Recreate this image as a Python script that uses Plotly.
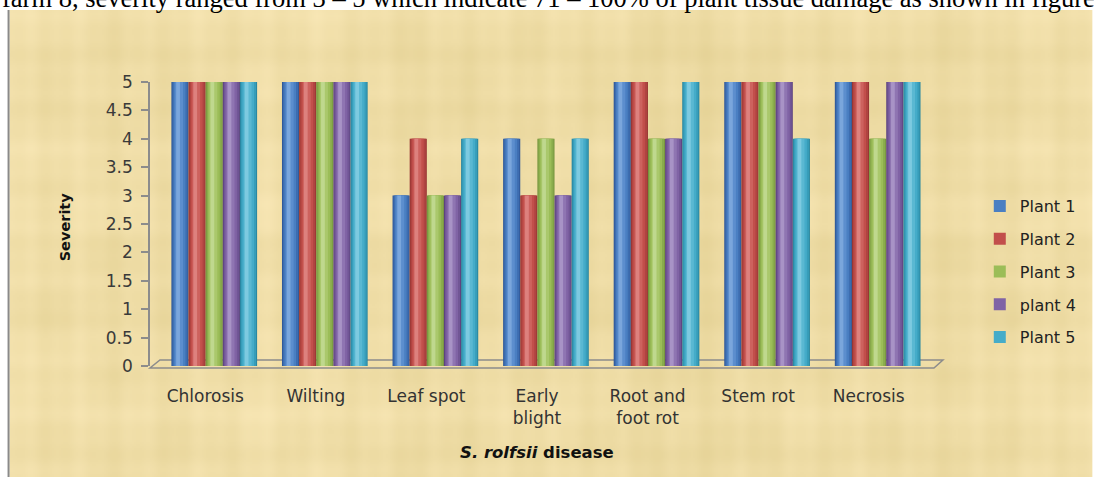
import base64
import struct
import zlib

import numpy as np
import plotly.graph_objects as go

# Disease categories on the x axis
categories = ["Chlorosis", "Wilting", "Leaf spot", "Early<br>blight",
              "Root and<br>foot rot", "Stem rot", "Necrosis"]

# Severity scores per plant
plant_1 = [5, 5, 3, 4, 5, 5, 5]
plant_2 = [5, 5, 4, 3, 5, 5, 5]
plant_3 = [5, 5, 3, 4, 4, 5, 4]
plant_4 = [5, 5, 3, 3, 4, 5, 5]
plant_5 = [5, 5, 4, 4, 5, 4, 5]

series_names = ["Plant 1", "Plant 2", "Plant 3", "plant 4", "Plant 5"]
series_values = [plant_1, plant_2, plant_3, plant_4, plant_5]

# Shades from the bar edge toward its highlight, for a cylinder look
shades = [
    ["#30599A", "#3D6DB0", "#4A7FC2", "#5C8ECE", "#7AA6DC"],
    ["#983634", "#B04441", "#C24F4B", "#CD625E", "#DD817E"],
    ["#76953E", "#8AAC4C", "#9BBD58", "#AAC86C", "#BFD88E"],
    ["#5D4380", "#715696", "#8063A5", "#8F75B2", "#A893C6"],
    ["#2A87A1", "#379DB9", "#45ACC9", "#5AB8D2", "#7DCAE0"],
]
layer_span = [(0.0, 1.0), (0.06, 0.88), (0.14, 0.68), (0.22, 0.46), (0.28, 0.22)]

# Plot-area geometry in pixels
W, H = 1094, 479
PL, PR, PT, PB = 150, 927, 82, 366


def px(x):
    return (x - PL) / (PR - PL)


def py(y):
    return (PB - y) / (PB - PT)


def parchment_png(w, h):
    """Woven parchment backdrop built from crossing fibre bands."""
    x = np.arange(w)[None, :].astype(float)
    y = np.arange(h)[:, None].astype(float)
    v = (1.8 * np.sin(x * 0.21 + 0.4) + 1.2 * np.sin(x * 0.047 + 1.3)
         + 1.2 * np.sin(x * 0.53 + 2.1) + 1.4 * np.sin(x * 0.013 + 0.2))
    hz = (1.6 * np.sin(y * 0.19 + 0.9) + 1.3 * np.sin(y * 0.061 + 2.4)
          + 1.0 * np.sin(y * 0.47 + 0.7))
    cells = 1.5 * np.sin(x * 0.09) * np.sin(y * 0.11 + 0.5)
    d = v + hz + cells
    base = np.array([239.0, 221.0, 166.0])
    tint = np.array([1.0, 1.05, 1.6])
    img = base[None, None, :] + d[:, :, None] * tint[None, None, :]
    img = np.clip(img, 0, 255).astype(np.uint8)
    raw = b"".join(b"\x00" + row.tobytes() for row in img)

    def chunk(tag, data):
        c = struct.pack(">I", len(data)) + tag + data
        return c + struct.pack(">I", zlib.crc32(tag + data) & 0xFFFFFFFF)

    png = (b"\x89PNG\r\n\x1a\n"
           + chunk(b"IHDR", struct.pack(">IIBBBBB", w, h, 8, 2, 0, 0, 0))
           + chunk(b"IDAT", zlib.compress(raw, 9))
           + chunk(b"IEND", b""))
    return "data:image/png;base64," + base64.b64encode(png).decode()


fig = go.Figure()

bar_w = 0.155          # one bar, in category units
shift = 0.081          # bars sit slightly behind the category labels
start = shift - 2.5 * bar_w
xs = list(range(len(categories)))

for i, (name, vals) in enumerate(zip(series_names, series_values)):
    off = start + i * bar_w
    for j, (lo, span) in enumerate(layer_span):
        fig.add_trace(go.Bar(
            x=xs, y=vals, name=name, legendgroup=name, hoverinfo="skip",
            offset=off + lo * bar_w, width=span * bar_w,
            marker=dict(color=shades[i][j], line=dict(width=0)),
            showlegend=(j == 2)))

images = [dict(source=parchment_png(543, 234), xref="paper", yref="paper",
               x=px(9), y=py(10), sizex=px(W + 2) - px(9), sizey=py(10) - py(477),
               xanchor="left", yanchor="top", sizing="stretch", layer="below")]

shapes = [
    # panel left border
    dict(type="line", xref="paper", yref="paper", layer="below",
         x0=px(8), x1=px(8), y0=py(477), y1=py(10),
         line=dict(color="#8A8A8A", width=2)),
    # 3-D floor
    dict(type="path", xref="paper", yref="paper", layer="below",
         path=f"M {px(150)},{py(368)} L {px(937)},{py(368)} L {px(946)},{py(360)} "
              f"L {px(160)},{py(360)} Z",
         line=dict(color="#8C8C8C", width=1.5), fillcolor="rgba(0,0,0,0)"),
]

annotations = [
    dict(text="farm 8, severity ranged from 3 – 5 which indicate 71 – 100% of plant tissue damage as shown in figure",
         xref="paper", yref="paper", x=px(-1), y=py(15), xanchor="left", yanchor="bottom",
         showarrow=False, font=dict(family="Liberation Serif", size=26.5, color="#000000")),
    dict(text="<b>Severity</b>", textangle=-90, xref="paper", yref="paper",
         x=px(65), y=py(227), xanchor="center", yanchor="middle", showarrow=False,
         font=dict(family="DejaVu Sans", size=14.5, color="#111111")),
    dict(text="<b><i>S. rolfsii</i> disease</b>", xref="paper", yref="paper",
         x=px(538), y=py(452), xanchor="center", yanchor="middle", showarrow=False,
         font=dict(family="DejaVu Sans", size=16.5, color="#111111")),
]

fig.update_layout(
    width=W, height=H,
    margin=dict(l=PL, r=W - PR, t=PT, b=H - PB, pad=0),
    paper_bgcolor="white", plot_bgcolor="rgba(0,0,0,0)",
    barmode="overlay",
    images=images, shapes=shapes, annotations=annotations,
    font=dict(family="DejaVu Sans", color="#333333"),
    legend=dict(x=px(983), y=py(189), xanchor="left", yanchor="top",
                font=dict(family="DejaVu Sans", size=16, color="#222222"),
                tracegroupgap=9, bgcolor="rgba(0,0,0,0)"),
    xaxis=dict(type="category", range=[-0.5, 6.5], showline=False, showgrid=False,
               ticks="", tickvals=xs, ticktext=categories, ticklabelstandoff=18,
               tickfont=dict(family="DejaVu Sans", size=17, color="#333333")),
    yaxis=dict(range=[0, 5], dtick=0.5, showgrid=False, zeroline=False,
               showline=True, linecolor="#8C8C8C", linewidth=1.5,
               ticks="outside", ticklen=7, tickcolor="#8C8C8C", tickwidth=1.5,
               ticklabelstandoff=5,
               tickfont=dict(family="DejaVu Sans", size=17, color="#3A3A3A")),
)

fig.write_html("out.html")
